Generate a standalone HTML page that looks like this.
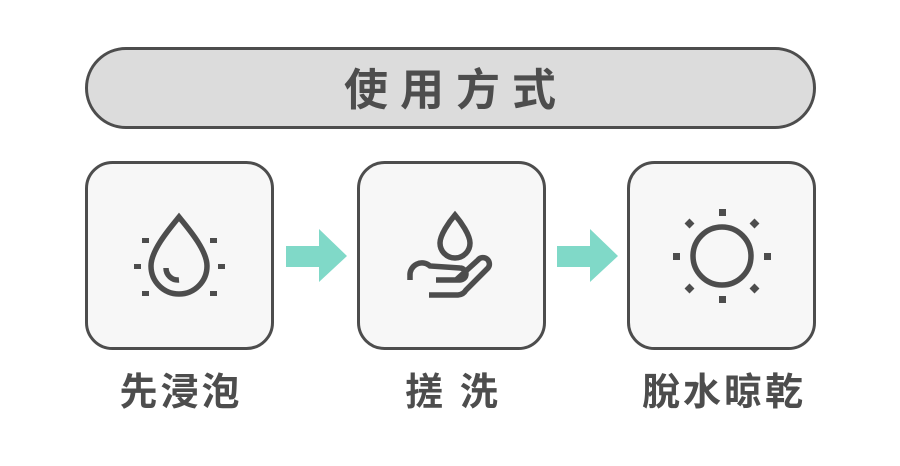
<!DOCTYPE html>
<html><head><meta charset="utf-8"><style>
body{margin:0;width:900px;height:461px;background:#fff;overflow:hidden}
</style></head><body>
<svg width="900" height="461" viewBox="0 0 900 461" xmlns="http://www.w3.org/2000/svg">
<rect x="86.5" y="48.5" width="728" height="79" rx="39.5" fill="#dcdcdc" stroke="#4d4d4d" stroke-width="3"/>
<text x="456" y="105" text-anchor="middle" font-family="Liberation Sans,'Noto Sans CJK TC',sans-serif" font-weight="bold" font-size="44" fill="#4d4d4d" letter-spacing="12">使用方式</text>
<g fill="#f7f7f7" stroke="#4d4d4d" stroke-width="3">
<rect x="86.5" y="162.5" width="186" height="186" rx="26"/>
<rect x="358.5" y="162.5" width="186" height="186" rx="26"/>
<rect x="628.5" y="162.5" width="186" height="186" rx="26"/>
</g>
<g fill="#80d9c8">
<path d="M286 246H319V229L347 256L319 282V267H286Z"/>
<path d="M557 246H590V229L618 256L590 282V267H557Z"/>
</g>
<g fill="none" stroke="#4d4d4d" stroke-width="5.5">
<path d="M179 217C170 228 151 250 151 266A28 28 0 0 0 207 266C207 250 188 228 179 217Z"/>
<path d="M166 268A12 12 0 0 0 179 280"/>
<path d="M455 215C449 222 440 235 440 243A15 15 0 0 0 470 243C470 235 461 222 455 215Z"/>
<path d="M410 280V276A12 12 0 0 1 430 266L460 268A6 6 0 0 1 460 280H436M456 280L478 260A6 6 0 0 1 488 268L466 290A10 10 0 0 1 458 295H429"/>
<circle cx="722" cy="256" r="29"/>
</g>
<g fill="#4d4d4d">
<rect x="142" y="238" width="7" height="5"/><rect x="210" y="238" width="7" height="5"/>
<rect x="134" y="264" width="7" height="5"/><rect x="218" y="264" width="7" height="5"/>
<rect x="142" y="291" width="7" height="5"/><rect x="210" y="291" width="7" height="5"/>
<rect x="719" y="209" width="7" height="7"/><rect x="719" y="296" width="7" height="7"/>
<rect x="673" y="253" width="7" height="7"/><rect x="764" y="253" width="7" height="7"/>
<rect x="686" y="220" width="7" height="7" transform="rotate(45 689.5 223.5)"/>
<rect x="751" y="220" width="7" height="7" transform="rotate(45 754.5 223.5)"/>
<rect x="686" y="285" width="7" height="7" transform="rotate(45 689.5 288.5)"/>
<rect x="751" y="285" width="7" height="7" transform="rotate(45 754.5 288.5)"/>
</g>
<g font-family="Liberation Sans,'Noto Sans CJK TC',sans-serif" font-weight="bold" font-size="38" fill="#4d4d4d" text-anchor="middle" letter-spacing="3">
<text x="181" y="405">先浸泡</text>
<text x="453" y="405">搓 洗</text>
<text x="724" y="405">脫水晾乾</text>
</g>
</svg>
</body></html>
